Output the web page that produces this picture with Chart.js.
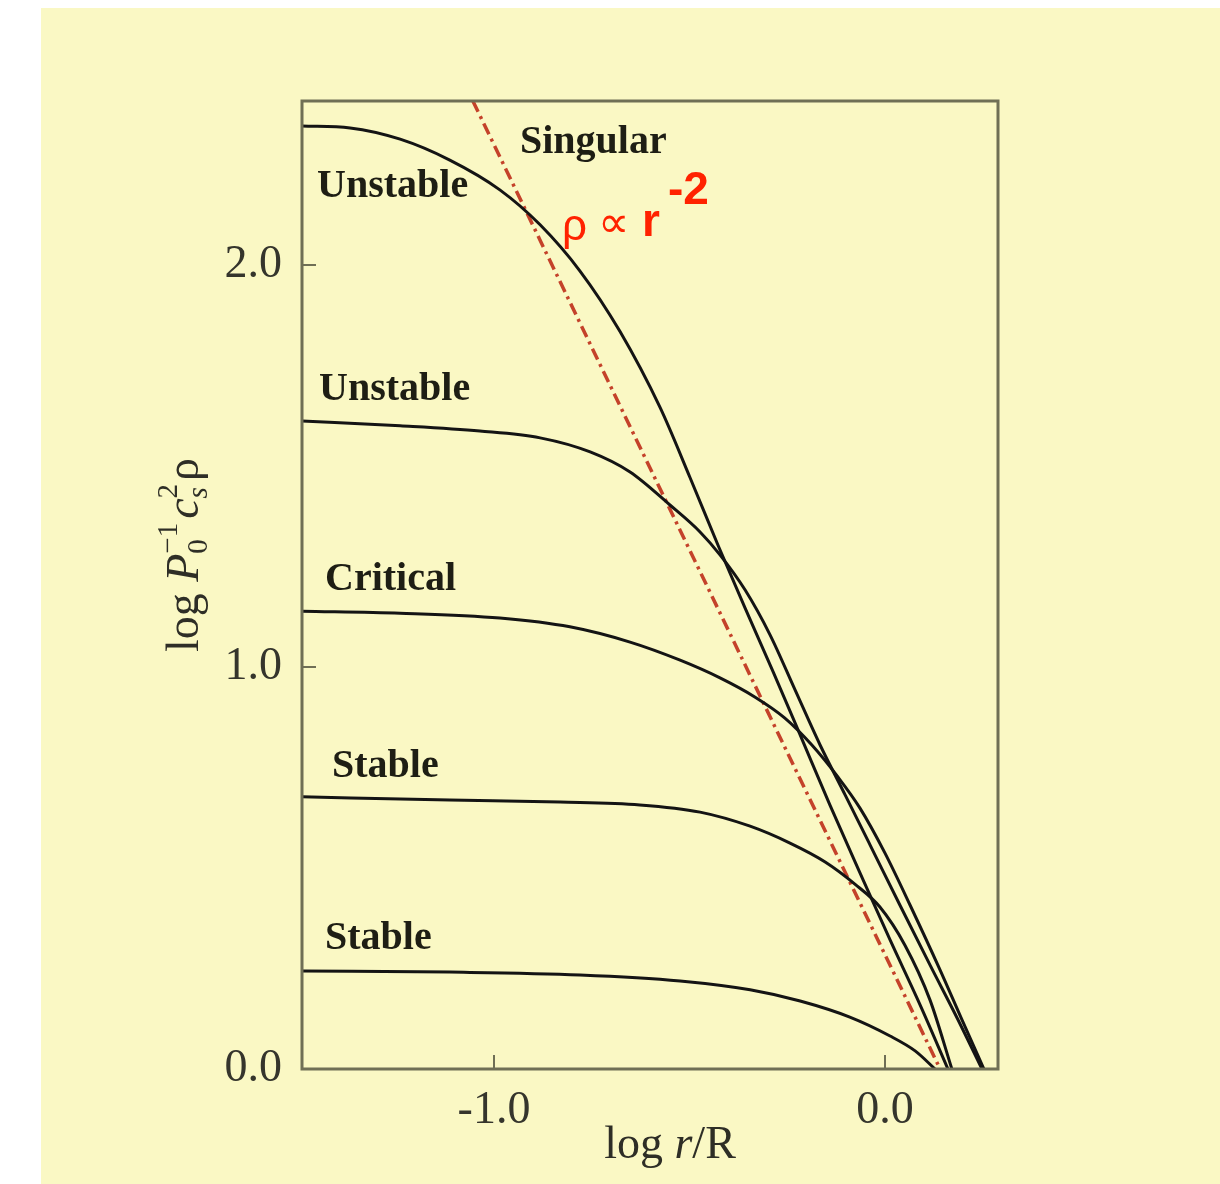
<!DOCTYPE html>
<html>
<head>
<meta charset="utf-8">
<script src="https://cdn.jsdelivr.net/npm/chart.js@4.4.0/dist/chart.umd.min.js"></script>
<style>
  html, body { margin: 0; padding: 0; background: #ffffff; }
  #wrap { width: 1220px; height: 1184px; }
</style>
</head>
<body>
<div id="wrap"><canvas id="chart" width="1220" height="1184"></canvas></div>
<script>
// axis ticks
const xTicks = [-1.0, 0.0];
const yTicks = [0.0, 1.0, 2.0];

// curves: x = log r/R, y = log P0^-1 cs^2 rho
const unstableHighX = [-1.491, -1.368, -1.240, -1.113, -0.985, -0.882, -0.780, -0.678, -0.575, -0.499, -0.427, -0.358, -0.286, -0.217, -0.141, -0.064, 0.013, 0.090, 0.161];
const unstableHighY = [2.346, 2.341, 2.313, 2.261, 2.187, 2.100, 1.985, 1.835, 1.645, 1.472, 1.303, 1.147, 0.988, 0.831, 0.657, 0.488, 0.321, 0.159, 0.0];

const unstableX = [-1.491, -1.240, -1.036, -0.882, -0.754, -0.652, -0.550, -0.473, -0.422, -0.358, -0.294, -0.230, -0.166, -0.102, -0.038, 0.038, 0.115, 0.187, 0.248];
const unstableY = [1.612, 1.600, 1.587, 1.570, 1.535, 1.485, 1.403, 1.336, 1.279, 1.192, 1.080, 0.943, 0.806, 0.682, 0.557, 0.408, 0.259, 0.122, 0.0];

const criticalX = [-1.491, -1.240, -0.985, -0.806, -0.652, -0.524, -0.422, -0.332, -0.256, -0.187, -0.120, -0.064, 0.000, 0.064, 0.141, 0.197, 0.253];
const criticalY = [1.139, 1.134, 1.122, 1.100, 1.062, 1.017, 0.973, 0.925, 0.873, 0.806, 0.726, 0.649, 0.537, 0.408, 0.246, 0.122, 0.0];

const stableX = [-1.491, -1.113, -0.831, -0.627, -0.473, -0.345, -0.243, -0.153, -0.077, -0.013, 0.051, 0.115, 0.171];
const stableY = [0.677, 0.669, 0.664, 0.657, 0.639, 0.604, 0.562, 0.515, 0.460, 0.403, 0.308, 0.172, 0.0];

const stableLowX = [-1.491, -1.113, -0.780, -0.524, -0.345, -0.217, -0.090, 0.013, 0.077, 0.128];
const stableLowY = [0.244, 0.241, 0.234, 0.219, 0.197, 0.169, 0.129, 0.082, 0.045, 0.0];

// singular solution, rho ~ r^-2
const singularX = [-1.054, 0.141];
const singularY = [2.408, 0.0];

const toPoints = (xs, ys) => xs.map((x, i) => ({ x: x, y: ys[i] }));

const INK = '#141414';
const FRAME = '#6f6f55';
const YELLOW = '#faf8c4';
const SERIF = '"Liberation Serif", "DejaVu Serif", serif';
const SANS = '"Liberation Sans", Arial, sans-serif';

function curve(xs, ys) {
    return {
        data: toPoints(xs, ys),
        showLine: true,
        borderColor: INK,
        borderWidth: 3,
        pointRadius: 0,
        cubicInterpolationMode: 'monotone'
    };
}

// background panel
const panelPlugin = {
    id: 'panel',
    beforeDraw(chart) {
        const c = chart.ctx;
        c.save();
        c.fillStyle = '#ffffff';
        c.fillRect(0, 0, chart.width, chart.height);
        c.fillStyle = YELLOW;
        c.fillRect(41, 8, chart.width - 41, chart.height - 8);
        c.restore();
    }
};

// frame, inward ticks, curve labels and axis titles
const decorPlugin = {
    id: 'decor',
    afterDatasetsDraw(chart) {
        const c = chart.ctx;
        const a = chart.chartArea;
        const xs = chart.scales.x, ys = chart.scales.y;
        c.save();
        c.strokeStyle = FRAME;
        c.lineWidth = 3;
        c.strokeRect(a.left, a.top, a.right - a.left, a.bottom - a.top);

        c.lineWidth = 2;
        xTicks.forEach(v => {
            const px = xs.getPixelForValue(v);
            c.beginPath(); c.moveTo(px, a.bottom); c.lineTo(px, a.bottom - 14); c.stroke();
        });
        yTicks.forEach(v => {
            const py = ys.getPixelForValue(v);
            c.beginPath(); c.moveTo(a.left, py); c.lineTo(a.left + 14, py); c.stroke();
        });

        // curve names
        c.fillStyle = '#1e1e14';
        c.font = 'bold 40px ' + SERIF;
        c.textBaseline = 'alphabetic';
        c.textAlign = 'left';
        c.fillText('Singular', 520, 153);
        c.fillText('Unstable', 317, 197);
        c.fillText('Unstable', 319, 400);
        c.fillText('Critical', 325, 590);
        c.fillText('Stable', 332, 777);
        c.fillText('Stable', 325, 949);

        // red label
        c.fillStyle = '#ff2200';
        c.font = '44px ' + SANS;
        c.fillText('\u03c1', 562, 240);
        c.fillText('\u221d', 598, 237);
        c.font = 'bold 46px ' + SANS;
        c.fillText('r', 642, 236);
        c.fillText('-2', 668, 204);

        // x title: log r/R
        c.fillStyle = '#2e2e26';
        const xParts = [
            { t: 'log ', f: '46px ' + SERIF },
            { t: 'r', f: 'italic 46px ' + SERIF },
            { t: '/R', f: '46px ' + SERIF }
        ];
        let w = 0;
        xParts.forEach(p => { c.font = p.f; w += c.measureText(p.t).width; });
        let x0 = 670 - w / 2;
        xParts.forEach(p => { c.font = p.f; c.fillText(p.t, x0, 1158); x0 += c.measureText(p.t).width; });

        // y title: log P0^-1 cs^2 rho
        c.translate(198, 555);
        c.rotate(-Math.PI / 2);
        const big = '46px ' + SERIF, bigI = 'italic 46px ' + SERIF;
        const sm = '29px ' + SERIF, smI = 'italic 29px ' + SERIF;
        const yParts = [
            { t: 'log ', f: big, dy: 0 },
            { t: 'P', f: bigI, dy: 0 },
            { t: '0', f: sm, dy: 9, sup: { t: '\u22121', f: sm, dy: -21 } },
            { t: 'c', f: bigI, dy: 0, pad: 4 },
            { t: 's', f: smI, dy: 9, sup: { t: '2', f: sm, dy: -21 } },
            { t: '\u03c1', f: big, dy: 0, pad: 3 }
        ];
        const widthOf = p => {
            c.font = p.f;
            let pw = c.measureText(p.t).width;
            if (p.sup) { c.font = p.sup.f; pw = Math.max(pw, c.measureText(p.sup.t).width); }
            return pw + (p.pad || 0);
        };
        let tw = 0;
        yParts.forEach(p => { tw += widthOf(p); });
        let cx = -tw / 2;
        yParts.forEach(p => {
            const pad = p.pad || 0;
            c.font = p.f;
            c.fillText(p.t, cx + pad, p.dy);
            if (p.sup) { c.font = p.sup.f; c.fillText(p.sup.t, cx + pad, p.sup.dy); }
            cx += widthOf(p);
        });
        c.restore();
    }
};

new Chart(document.getElementById('chart'), {
    type: 'scatter',
    data: {
        datasets: [
            curve(unstableHighX, unstableHighY),
            curve(unstableX, unstableY),
            curve(criticalX, criticalY),
            curve(stableX, stableY),
            curve(stableLowX, stableLowY),
            {
                data: toPoints(singularX, singularY),
                showLine: true,
                borderColor: '#c4422a',
                borderWidth: 3.5,
                borderDash: [12, 5, 3, 5],
                pointRadius: 0,
                tension: 0
            }
        ]
    },
    plugins: [panelPlugin, decorPlugin],
    options: {
        responsive: false,
        devicePixelRatio: 1,
        animation: false,
        layout: { padding: { top: 101, right: 222, left: 0, bottom: 0 } },
        plugins: {
            legend: { display: false },
            tooltip: { enabled: false }
        },
        scales: {
            x: {
                type: 'linear',
                min: -1.491,
                max: 0.289,
                afterBuildTicks: s => { s.ticks = xTicks.map(v => ({ value: v })); },
                afterFit: s => { s.height = 115; },
                grid: { display: false },
                border: { display: false },
                ticks: {
                    padding: 6,
                    color: '#35352c',
                    font: { family: SERIF, size: 46 },
                    callback: v => v.toFixed(1)
                }
            },
            y: {
                type: 'linear',
                min: 0,
                max: 2.408,
                afterBuildTicks: s => { s.ticks = yTicks.map(v => ({ value: v })); },
                afterFit: s => { s.width = 302; },
                grid: { display: false },
                border: { display: false },
                ticks: {
                    padding: 12,
                    color: '#35352c',
                    font: { family: SERIF, size: 46 },
                    callback: v => v.toFixed(1)
                }
            }
        }
    }
});
</script>
</body>
</html>
